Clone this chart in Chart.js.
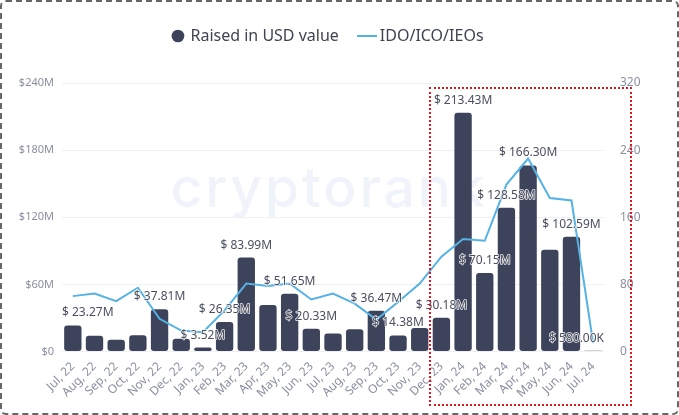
<!DOCTYPE html>
<html><head><meta charset="utf-8">
<script src="https://cdn.jsdelivr.net/npm/chart.js@4"></script>
<style>
html,body{margin:0;padding:0;background:#fff;width:679px;height:415px;overflow:hidden}
#wrap{position:relative;width:679px;height:415px}
canvas{position:absolute;left:0;top:0}
#frame{position:absolute;left:0;top:0;width:675px;height:411px;border:2px dashed #666;border-radius:6px;pointer-events:none}
#focus{position:absolute;left:429px;top:87px;width:199px;height:315px;border:2px dotted #e8141c;pointer-events:none}
</style></head><body>
<div id="wrap"><canvas id="c" width="679" height="415"></canvas><div id="frame"></div><div id="focus"></div></div>
<script>
const categories=["Jul, 22","Aug, 22","Sep, 22","Oct, 22","Nov, 22","Dec, 22","Jan, 23","Feb, 23","Mar, 23","Apr, 23","May, 23","Jun, 23","Jul, 23","Aug, 23","Sep, 23","Oct, 23","Nov, 23","Dec, 23","Jan, 24","Feb, 24","Mar, 24","Apr, 24","May, 24","Jun, 24","Jul, 24"];
const raised=[23.27,14,10.5,14.5,37.81,11.5,3.52,26.35,83.99,41.5,51.65,20.33,16,20,36.47,14.38,21,30.18,213.43,70.15,128.58,166.30,91,102.59,0.58];
const idos=[66,69,60,76,39,25,23,49,81,78,81,62,69,57,38,59,81,113,134,132,199,230,183,180,10];
const barLabels=["$ 23.27M","","","","$ 37.81M","","$ 3.52M","$ 26.35M","$ 83.99M","","$ 51.65M","$ 20.33M","","","$ 36.47M","$ 14.38M","","$ 30.18M","$ 213.43M","$ 70.15M","$ 128.58M","$ 166.30M","","$ 102.59M","$ 580.00K"];
const leftTicks=[0,60,120,180,240];
const rightTicks=[0,80,160,240,320];
const FONT='"Noto Sans"';
const legendLine=document.createElement('canvas');legendLine.width=20;legendLine.height=2;
(()=>{const g=legendLine.getContext('2d');g.fillStyle='#55b2e4';g.fillRect(0,0,20,2);})();
const legendGap={id:'legendGap',beforeInit(ch){const f=ch.legend.fit;ch.legend.fit=function(){f.call(this);this.height+=29;};}};
const labelPlugin={id:'barLabels',afterDatasetsDraw(ch){
  const c=ch.ctx,a=ch.chartArea,m=ch.getDatasetMeta(1);
  c.save();c.font='12px '+FONT;c.textAlign='left';c.textBaseline='alphabetic';c.lineJoin='round';
  barLabels.forEach((t,i)=>{if(!t)return;
    const w=c.measureText(t).width,b=m.data[i];
    let x=b.x-w/2;x=Math.max(a.left,Math.min(a.right-w,x));
    const y=b.y-9;
    c.lineWidth=1.5;c.strokeStyle='rgba(255,255,255,.9)';c.strokeText(t,x,y);
    c.fillStyle='#4b5060';c.fillText(t,x,y);
  });c.restore();}};
const watermark={id:'watermark',beforeDatasetsDraw(ch){
  const c=ch.ctx;c.save();c.font='500 55px Inter';c.letterSpacing='3px';c.fillStyle='#f0f3f9';c.textAlign='center';c.textBaseline='alphabetic';
  c.fillText('cryptorank',329,207);c.restore();}};
new Chart(document.getElementById('c'),{
 data:{labels:categories,datasets:[
  {type:'line',label:'IDO/ICO/IEOs',data:idos,yAxisID:'y1',borderColor:'#55b2e4',backgroundColor:'#55b2e4',borderWidth:2,pointRadius:0,tension:0,order:0},
  {type:'bar',label:'Raised in USD value',data:raised,yAxisID:'y',backgroundColor:'#3e435c',borderRadius:3,borderSkipped:false,barPercentage:.8,categoryPercentage:1,order:1}
 ]},
 plugins:[legendGap,watermark,labelPlugin],
 options:{responsive:false,animation:false,
  layout:{padding:{top:4,right:22,bottom:0,left:0}},
  plugins:{tooltip:{enabled:false},
   legend:{position:'top',labels:{font:{family:FONT,size:16},color:'#3f4452',boxWidth:9,boxHeight:9,padding:24,
    generateLabels(ch){return [
      {text:'Raised in USD value',datasetIndex:1,pointStyle:'circle',fillStyle:'#3e435c',strokeStyle:'#3e435c',lineWidth:0,fontColor:'#3f4452'},
      {text:'IDO/ICO/IEOs',datasetIndex:0,pointStyle:legendLine,fillStyle:'#55b2e4',strokeStyle:'#55b2e4',lineWidth:2,fontColor:'#3f4452'}
    ];},usePointStyle:true}}},
  scales:{
   x:{afterFit(s){s.height=63.5;},grid:{display:false},border:{display:false},ticks:{font:{family:FONT,size:12},color:'#8b90a0',maxRotation:45,minRotation:45,autoSkip:false,padding:0}},
   y:{position:'left',min:0,max:240,afterFit(s){s.width=62;},afterBuildTicks(s){s.ticks=leftTicks.map(v=>({value:v}));},grid:{color:'#eef0f3',drawTicks:false},border:{display:false},ticks:{font:{family:FONT,size:11},color:'#8b90a0',padding:8,callback:v=>'$'+v+(v?'M':'')}},
   y1:{position:'right',min:0,max:320,afterFit(s){s.width=53;},afterBuildTicks(s){s.ticks=rightTicks.map(v=>({value:v}));},grid:{display:false},border:{display:false},ticks:{font:{family:FONT,size:12},color:'#8b90a0',padding:8}}
  }}
});
</script></body></html>
